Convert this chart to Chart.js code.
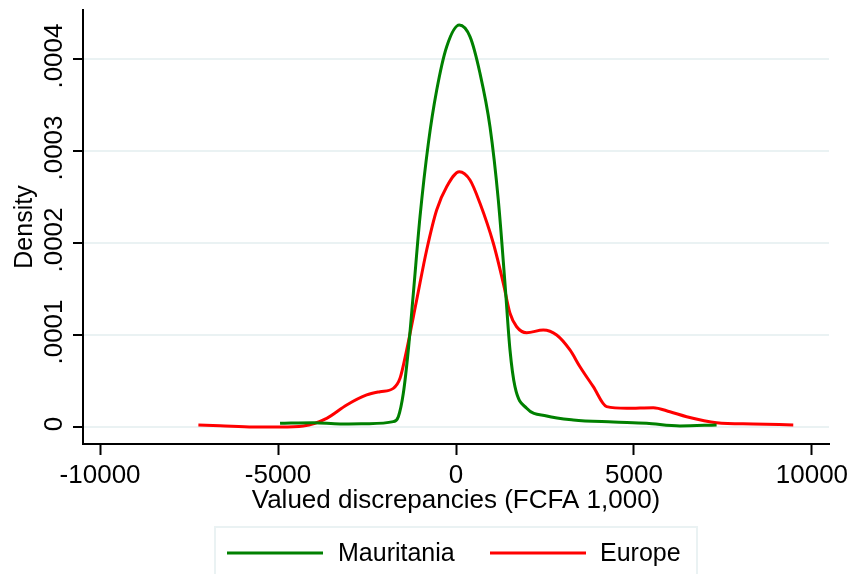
<!DOCTYPE html>
<html>
<head>
<meta charset="utf-8">
<title>Kernel density - valued discrepancies</title>
<script src="https://cdn.jsdelivr.net/npm/chart.js@4"></script>
<style>
  body { margin: 0; background: #fff; }
  #wrap { width: 854px; height: 574px; }
</style>
</head>
<body>
<div id="wrap"><canvas id="densityChart" width="854" height="574"></canvas></div>
<script>
// Series (x in FCFA 1,000, y = density)
const mauritaniaX = [-4944, -4008, -3258, -2509, -1761, -1620, -1480, -1340, -1199, -1011, -778, -543, -262, 94, 393, 674, 955, 1189, 1376, 1517, 1657, 1985, 2547, 3295, 4419, 5356, 6292, 7322];
const mauritaniaY = [0.0000040, 0.0000047, 0.0000033, 0.0000036, 0.0000058, 0.0000112, 0.0000366, 0.0000837, 0.000145, 0.0002286, 0.000308, 0.000366, 0.0004134, 0.000437, 0.0004243, 0.0003845, 0.0003264, 0.0002467, 0.0001562, 0.0000837, 0.0000438, 0.0000203, 0.0000120, 0.0000076, 0.0000054, 0.0000040, 0.0000011, 0.0000022];

const europeX = [-7238, -6629, -5693, -4944, -4289, -3633, -3071, -2509, -2135, -1761, -1573, -1386, -1105, -824, -543, -262, 94, 393, 674, 1049, 1330, 1517, 1704, 1985, 2452, 2828, 3202, 3483, 3857, 4232, 4795, 5542, 6011, 6480, 7322, 8352, 9476];
const europeY = [0.0000022, 0.0000014, 0.0000000, 0.0000000, 0.0000011, 0.0000094, 0.0000239, 0.0000348, 0.0000384, 0.0000420, 0.0000529, 0.0000837, 0.000138, 0.0001924, 0.0002359, 0.0002612, 0.0002775, 0.0002685, 0.0002432, 0.0001997, 0.0001562, 0.0001236, 0.000109, 0.0001025, 0.0001054, 0.0001000, 0.0000837, 0.0000655, 0.0000438, 0.0000221, 0.0000203, 0.0000210, 0.0000166, 0.0000112, 0.0000047, 0.0000033, 0.0000022];

const seriesNames = ['Mauritania', 'Europe'];
const xTicks = [-10000, -5000, 0, 5000, 10000];
const yTicks = [0, 0.0001, 0.0002, 0.0003, 0.0004];
const yTickLabels = ['0', '.0001', '.0002', '.0003', '.0004'];
const xTitle = 'Valued discrepancies (FCFA 1,000)';
const yTitle = 'Density';

const FONT = '"Liberation Sans", Arial, sans-serif';
const GREEN = 'rgb(0,128,0)';
const RED = 'rgb(255,0,0)';
const GRID = 'rgb(234,242,243)';

function toPoints(xs, ys) {
    return xs.map((x, i) => ({ x: x, y: ys[i] }));
}

// rotated y tick labels and the boxed legend, Stata style
const stataExtras = {
    id: 'stataExtras',
    afterDraw(chart) {
        const ctx = chart.ctx;
        const yScale = chart.scales.y;
        ctx.save();
        ctx.fillStyle = '#000';
        ctx.font = '26px ' + FONT;
        ctx.textAlign = 'center';
        ctx.textBaseline = 'middle';
        yTicks.forEach((v, i) => {
            const py = yScale.getPixelForValue(v);
            ctx.save();
            ctx.translate(55, py - 3);
            ctx.rotate(-Math.PI / 2);
            ctx.fillText(yTickLabels[i], 0, 0);
            ctx.restore();
        });

        // legend
        ctx.font = '25px ' + FONT;
        ctx.fillStyle = '#fff';
        ctx.fillRect(215, 527, 482, 60);
        ctx.strokeStyle = GRID;
        ctx.lineWidth = 2;
        ctx.strokeRect(215, 527, 482, 60);
        const entries = [
            { color: GREEN, x0: 227, x1: 323, tx: 338 },
            { color: RED, x0: 490, x1: 586, tx: 600 }
        ];
        ctx.textAlign = 'left';
        entries.forEach((e, i) => {
            ctx.strokeStyle = e.color;
            ctx.lineWidth = 3;
            ctx.beginPath();
            ctx.moveTo(e.x0, 553);
            ctx.lineTo(e.x1, 553);
            ctx.stroke();
            ctx.fillStyle = '#000';
            ctx.fillText(chart.data.datasets[i].label, e.tx, 554);
        });
        ctx.restore();
    }
};

const ctx = document.getElementById('densityChart').getContext('2d');
const chart = new Chart(ctx, {
    type: 'scatter',
    data: {
        datasets: [{
            label: seriesNames[0],
            data: toPoints(mauritaniaX, mauritaniaY),
            showLine: true,
            borderColor: GREEN,
            borderWidth: 3,
            pointRadius: 0,
            cubicInterpolationMode: 'monotone',
            fill: false
        }, {
            label: seriesNames[1],
            data: toPoints(europeX, europeY),
            showLine: true,
            borderColor: RED,
            borderWidth: 3,
            pointRadius: 0,
            cubicInterpolationMode: 'monotone',
            fill: false
        }]
    },
    options: {
        responsive: false,
        animation: false,
        layout: { padding: { top: 10, right: 25, left: 0, bottom: 54 } },
        plugins: {
            legend: { display: false },
            tooltip: { enabled: false }
        },
        scales: {
            x: {
                type: 'linear',
                min: -10480,
                max: 10480,
                afterBuildTicks: (scale) => { scale.ticks = xTicks.map(v => ({ value: v })); },
                afterFit: (scale) => { scale.height = 76; },
                border: { display: true, color: '#000', width: 2 },
                grid: { drawOnChartArea: false, drawTicks: true, tickLength: 11, tickColor: '#000', tickWidth: 2 },
                ticks: {
                    color: '#000',
                    font: { family: FONT, size: 26 },
                    maxRotation: 0,
                    padding: 5,
                    callback: (v) => String(v)
                },
                title: {
                    display: true,
                    text: xTitle,
                    color: '#000',
                    font: { family: FONT, size: 26 },
                    padding: { top: 0, bottom: 4 }
                }
            },
            y: {
                type: 'linear',
                min: -0.0000185,
                max: 0.0004533,
                afterBuildTicks: (scale) => { scale.ticks = yTicks.map(v => ({ value: v })); },
                afterFit: (scale) => { scale.width = 83; },
                border: { display: true, color: '#000', width: 2 },
                grid: { color: GRID, lineWidth: 2, drawTicks: true, tickLength: 10, tickColor: '#000', tickWidth: 2 },
                ticks: { display: false },
                title: {
                    display: true,
                    text: yTitle,
                    color: '#000',
                    font: { family: FONT, size: 25 },
                    padding: { top: 10 }
                }
            }
        }
    },
    plugins: [stataExtras]
});
</script>
</body>
</html>
